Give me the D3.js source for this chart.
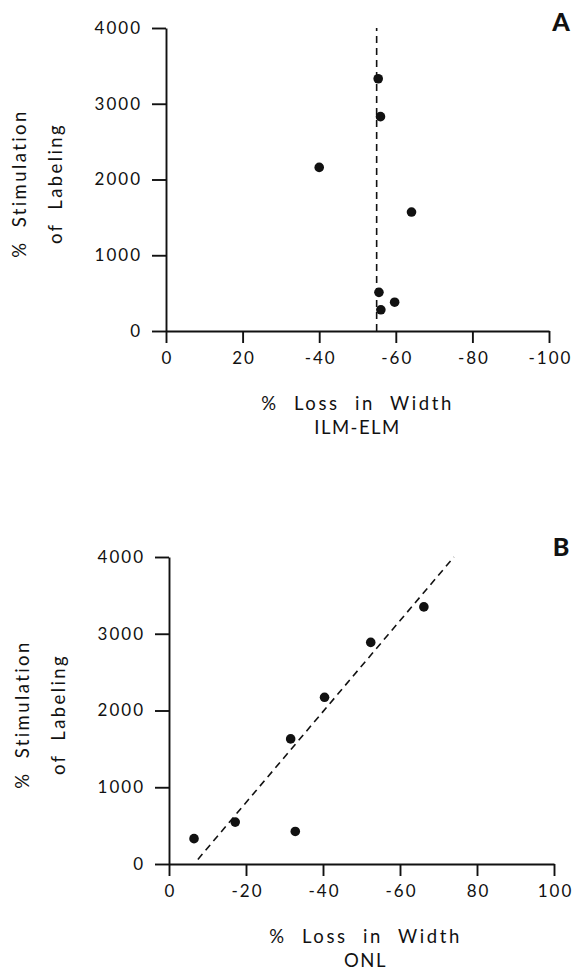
<!DOCTYPE html>
<html>
<head>
<meta charset="utf-8">
<script src="https://cdn.jsdelivr.net/npm/d3@7"></script>
<style>
  body { margin: 0; background: #fff; }
  svg text { font-family: Lato, "DejaVu Sans", sans-serif; fill: #111; }
</style>
</head>
<body>
<div id="chart"></div>
<script>
// panel A - ILM-ELM
const lossA = [55.4, 56.0, 40.0, 64.1, 55.6, 59.7, 56.1];
const stimA = [3330, 2830, 2160, 1570, 510, 380, 280];
const fitLossA = [55, 55];
const fitStimA = [0, 4000];

// panel B - ONL
const lossB = [6.5, 17.2, 31.6, 32.8, 40.4, 52.4, 66.2];
const stimB = [330, 546, 1630, 424, 2172, 2887, 3350];
const fitLossB = [7.5, 74];
const fitStimB = [60, 4000];

const xTicks = [0, 20, 40, 60, 80, 100];
const xLabelsA = ["0", "20", "-40", "-60", "-80", "-100"];
const xLabelsB = ["0", "-20", "-40", "-60", "80", "100"];
const yTicks = [0, 1000, 2000, 3000, 4000];

const W = 572, H = 973;
const svg = d3.select("#chart").append("svg")
  .attr("width", W)
  .attr("height", H);

function drawPanel(p) {
  const x = d3.scaleLinear().domain([0, 100]).range([p.left, p.right]);
  const y = d3.scaleLinear().domain([0, 4000]).range([p.bottom, p.top]);
  const g = svg.append("g");

  // axes
  const ax = g.append("g")
    .attr("transform", `translate(0,${p.bottom})`)
    .call(d3.axisBottom(x).tickValues(xTicks).tickSize(12).tickSizeOuter(0).tickPadding(9)
      .tickFormat((d, i) => p.xLabels[i]));
  const ay = g.append("g")
    .attr("transform", `translate(${p.left},0)`)
    .call(d3.axisLeft(y).tickValues(yTicks).tickSize(14).tickSizeOuter(0).tickPadding(10)
      .tickFormat(d3.format("d")));
  [ax, ay].forEach((a) => {
    a.selectAll("path, line").attr("stroke", "#111").attr("stroke-width", 1.9);
    a.selectAll("text")
      .attr("fill", "#111")
      .style("font-size", "17px")
      .style("letter-spacing", "2px");
  });
  // letter-spacing leaves a gap after the last digit; nudge x labels back
  ax.selectAll("text").attr("dx", "1px");

  // fitted dashed line
  const line = d3.line().x((d) => x(d[0])).y((d) => y(d[1]));
  g.append("path")
    .datum(d3.zip(p.fitLoss, p.fitStim))
    .attr("d", line)
    .attr("fill", "none")
    .attr("stroke", "#111")
    .attr("stroke-width", 1.6)
    .attr("stroke-dasharray", "7,5");

  // points
  g.selectAll("circle")
    .data(d3.zip(p.loss, p.stim))
    .join("circle")
    .attr("cx", (d) => x(d[0]))
    .attr("cy", (d) => y(d[1]))
    .attr("r", 4.8)
    .attr("fill", "#111");

  // y title
  const midY = (p.top + p.bottom) / 2 + 4;
  [["% Stimulation", p.left - 147], ["of Labeling", p.left - 111]].forEach(([t, tx]) => {
    g.append("text")
      .attr("transform", `translate(${tx},${midY}) rotate(-90)`)
      .attr("text-anchor", "middle")
      .attr("dominant-baseline", "central")
      .style("font-size", "18.5px")
      .style("letter-spacing", "2.4px")
      .style("word-spacing", "6px")
      .text(t);
  });

  // x title
  const midX = (p.left + p.right) / 2 + p.titleShift;
  g.append("text")
    .attr("x", midX).attr("y", p.bottom + 79)
    .attr("text-anchor", "middle")
    .style("font-size", "18.5px")
    .style("letter-spacing", "2.6px")
    .style("word-spacing", "8px")
    .text("% Loss in Width");
  g.append("text")
    .attr("x", midX).attr("y", p.bottom + 103)
    .attr("text-anchor", "middle")
    .style("font-size", "18.5px")
    .style("letter-spacing", "1.5px")
    .text(p.sub);

  // panel letter
  g.append("text")
    .attr("x", 561).attr("y", p.top + p.letterDy)
    .attr("text-anchor", "middle")
    .style("font-size", "25px")
    .style("font-weight", "900")
    .text(p.letter);
}

drawPanel({
  loss: lossA, stim: stimA, fitLoss: fitLossA, fitStim: fitStimA,
  xLabels: xLabelsA, left: 166, right: 549, top: 28, bottom: 331,
  sub: "ILM-ELM", letter: "A", letterDy: 3, titleShift: 0
});
drawPanel({
  loss: lossB, stim: stimB, fitLoss: fitLossB, fitStim: fitStimB,
  xLabels: xLabelsB, left: 169, right: 554, top: 557, bottom: 864,
  sub: "ONL", letter: "B", letterDy: -1, titleShift: 4
});
</script>
</body>
</html>
